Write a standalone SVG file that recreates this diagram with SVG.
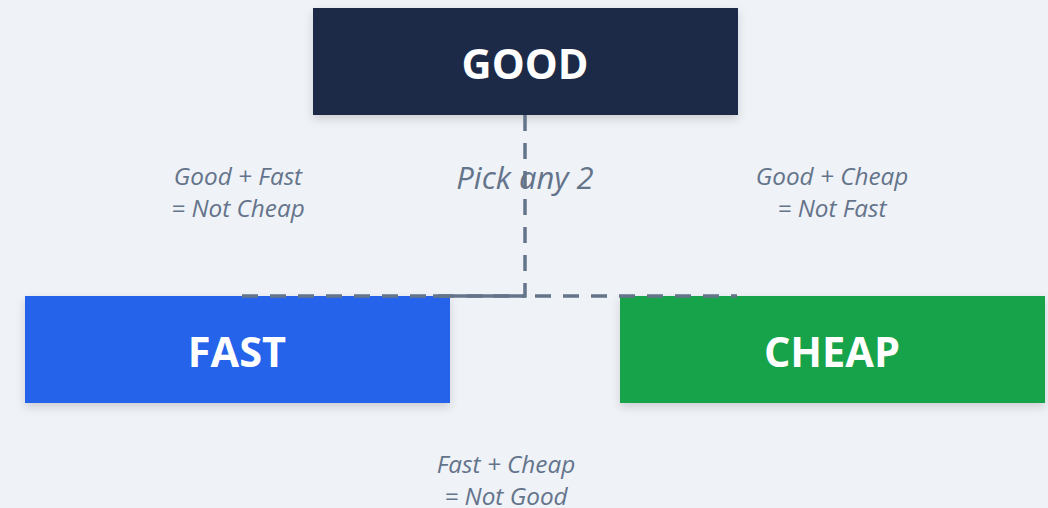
<svg xmlns="http://www.w3.org/2000/svg" width="1048" height="508" viewBox="0 0 1048 508">
<style>
.box-label{font-family:"Open Sans","Noto Sans",sans-serif;font-weight:700;font-size:41.5px;fill:#ffffff;text-anchor:middle}
.note{font-family:"Open Sans","Noto Sans",sans-serif;font-style:italic;font-size:24.3px;fill:#64748b;text-anchor:middle}
.title{font-family:"Open Sans","Noto Sans",sans-serif;font-style:italic;font-size:31px;fill:#64748b;text-anchor:middle}
.edge{fill:none;stroke:#64748b;stroke-width:3.5;stroke-dasharray:16 12}
.edge-solid{fill:none;stroke:#64748b;stroke-width:3.5}
</style>
<defs>
<filter id="shadow" x="-10%" y="-20%" width="120%" height="150%">
<feDropShadow dx="0" dy="4" stdDeviation="5" flood-color="#000000" flood-opacity="0.15"/>
</filter>
</defs>
<rect width="1048" height="508" fill="#eff2f7"/>
<g id="labels">
<text class="note" x="238" y="185">Good + Fast</text>
<text class="note" x="238" y="217">= Not Cheap</text>
<text class="title" x="525" y="189">Pick any 2</text>
<text class="note" x="832" y="185">Good + Cheap</text>
<text class="note" x="832" y="217">= Not Fast</text>
<text class="note" x="506" y="473">Fast + Cheap</text>
<text class="note" x="506" y="505">= Not Good</text>
</g>
<g id="node-good">
<rect x="313" y="8" width="425" height="107" fill="#1c2b46" filter="url(#shadow)"/>
<text class="box-label" x="525" y="79">GOOD</text>
</g>
<g id="node-fast">
<rect x="25" y="296" width="425" height="107" fill="#2563eb" filter="url(#shadow)"/>
<text class="box-label" x="237" y="367">FAST</text>
</g>
<g id="node-cheap">
<rect x="620" y="296" width="425" height="107" fill="#16a34a" filter="url(#shadow)"/>
<text class="box-label" x="832" y="367">CHEAP</text>
</g>
<g id="connectors">
<path class="edge" d="M525,115 V296 H237"/>
<path class="edge-solid" d="M433,296 H525"/>
<path class="edge" d="M525,296 H737" stroke-dashoffset="-10"/>
</g>
</svg>
